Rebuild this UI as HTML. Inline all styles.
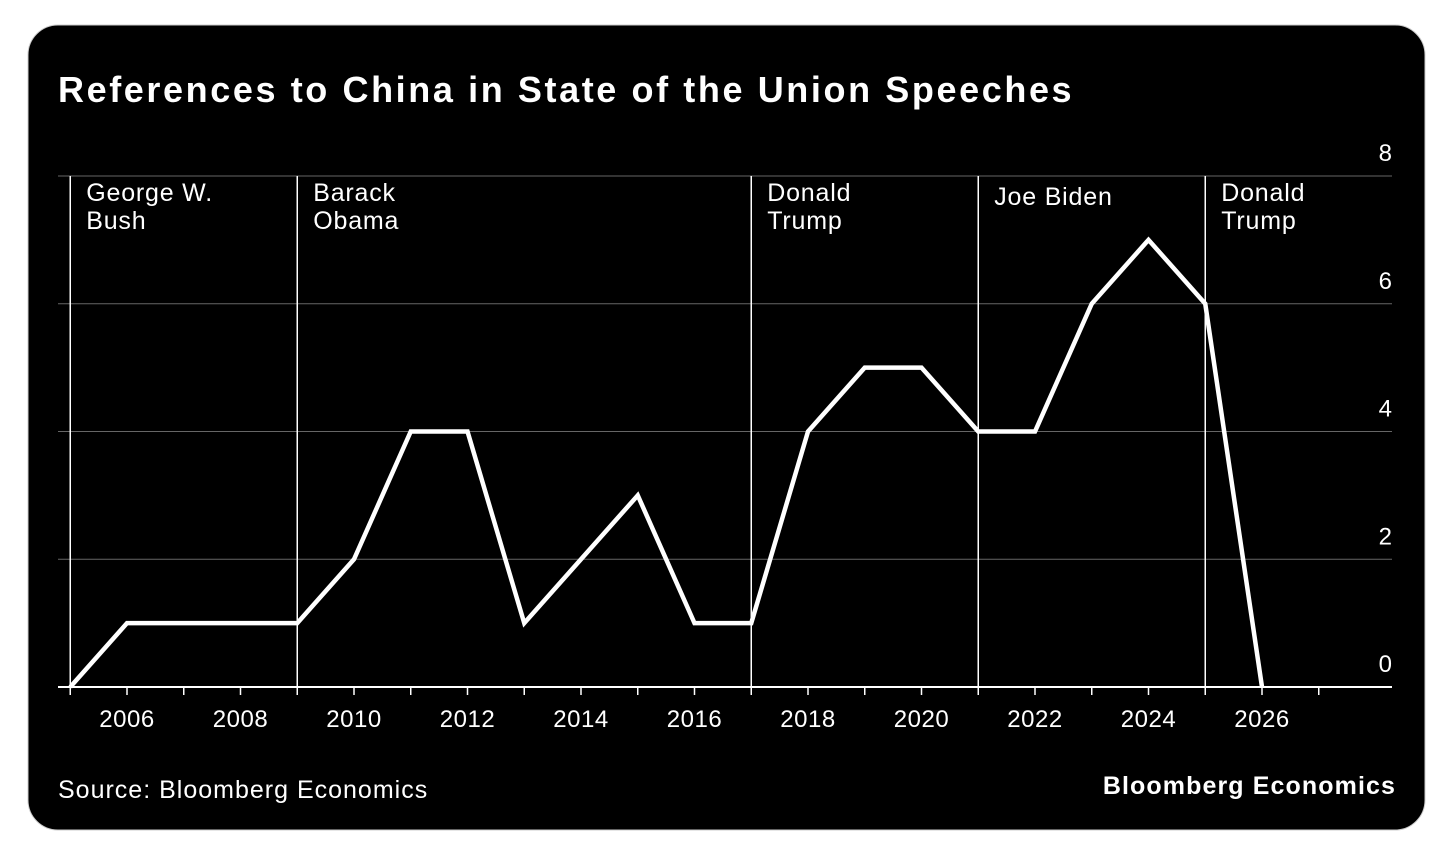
<!DOCTYPE html>
<html><head><meta charset="utf-8"><style>
html,body{margin:0;padding:0;background:#fff;width:1456px;height:857px;overflow:hidden}
svg{display:block}
text{font-family:"Liberation Sans",sans-serif;fill:#fff}
</style></head><body>
<svg width="1456" height="857">
<rect x="28" y="25" width="1397" height="805" rx="30" fill="#000" stroke="#ccc"/>
<text x="58" y="102" font-size="36" font-weight="bold" letter-spacing="2.6">References to China in State of the Union Speeches</text>
<g id="plot"></g>
<text x="58" y="798" font-size="25" letter-spacing="1">Source: Bloomberg Economics</text>
<text x="1396" y="794" font-size="25" font-weight="bold" letter-spacing="1.1" text-anchor="end">Bloomberg Economics</text>
</svg>
<script>
const years=[2005,2006,2007,2008,2009,2010,2011,2012,2013,2014,2015,2016,2017,2018,2019,2020,2021,2022,2023,2024,2025,2026];
const refs=[0,1,1,1,1,2,4,4,1,2,3,1,1,4,5,5,4,4,6,7,6,0];
const yTicks=[0,2,4,6,8];
const xLabels=[2006,2008,2010,2012,2014,2016,2018,2020,2022,2024,2026];
const presStarts=[2005,2009,2017,2021,2025];
const presNames=[["George W.","Bush"],["Barack","Obama"],["Donald","Trump"],["Joe Biden"],["Donald","Trump"]];
const NS="http://www.w3.org/2000/svg";
const g=document.getElementById('plot');
const X=y=>127+(y-2006)*56.75;
const Y=v=>687-v*63.875;
function mk(t,a){const e=document.createElementNS(NS,t);for(const k in a)e.setAttribute(k,a[k]);g.appendChild(e);return e;}
yTicks.forEach(v=>{
 if(v>0){const l=mk('line',{x1:58,x2:1392,y1:Y(v),y2:Y(v),stroke:'#666','stroke-width':1});
 
 }
 const t=mk('text',{x:1392,y:Y(v)-15,'font-size':24,'text-anchor':'end'});t.textContent=v;
 
 
});
for(let y=2005;y<=2027;y++){const tk=mk('line',{x1:X(y),x2:X(y),y1:687,y2:695,stroke:'#fff','stroke-width':1.5});
 
 }
xLabels.forEach(y=>{const t=mk('text',{x:X(y),y:727,'font-size':24,'letter-spacing':0.5,'text-anchor':'middle'});t.textContent=y;
 
 });
presStarts.forEach((y,i)=>{
 const l=mk('line',{x1:X(y),x2:X(y),y1:176,y2:687,stroke:'#fff','stroke-width':1.5});
 
 
 const names=presNames[i];
 const t=mk('text',{x:X(y)+16,y:names.length===1?205:201,'font-size':25,'letter-spacing':0.8});
 
 
 names.forEach((n,j)=>{const s=document.createElementNS(NS,'tspan');s.setAttribute('x',X(y)+16);if(j)s.setAttribute('dy',28);s.textContent=n;t.appendChild(s);});
});
const ax=mk('line',{x1:58,x2:1392,y1:687,y2:687,stroke:'#fff','stroke-width':2});


const p=mk('polyline',{points:years.map((y,i)=>X(y)+','+Y(refs[i])).join(' '),fill:'none',stroke:'#fff','stroke-width':4.5,'stroke-linejoin':'miter'});


</script>
</body></html>
